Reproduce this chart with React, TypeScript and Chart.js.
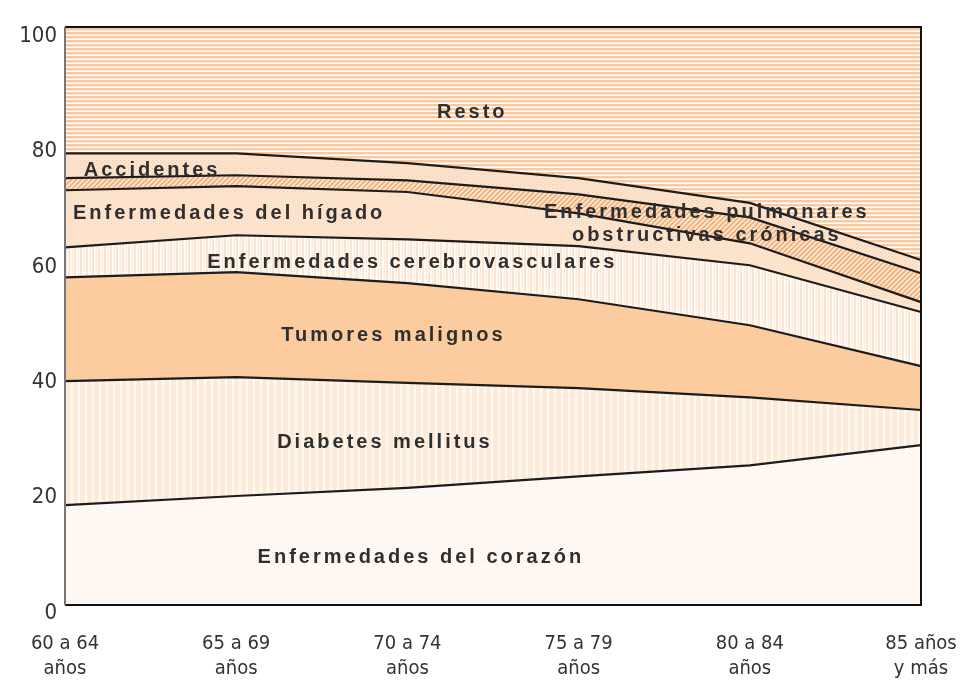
import React, { useEffect, useRef } from "react";
import { Chart, registerables } from "chart.js";
Chart.register(...registerables);

// ---- data (percent of deaths, stacked from bottom) ----
const categories = [
  ["60 a 64", "años"],
  ["65 a 69", "años"],
  ["70 a 74", "años"],
  ["75 a 79", "años"],
  ["80 a 84", "años"],
  ["85 años", "y más"],
];
const corazon = [18.7, 20.3, 21.7, 23.7, 25.6, 29.1];
const diabetes = [21.5, 20.6, 18.2, 15.3, 11.8, 6.1];
const tumores = [18.0, 18.2, 17.3, 15.4, 12.5, 7.6];
const cerebro = [5.2, 6.4, 7.6, 9.2, 10.4, 9.4];
const higado = [9.9, 8.5, 8.2, 5.7, 3.8, 1.7];
const epoc = [2.1, 1.9, 2.0, 3.3, 4.5, 5.0];
const accidentes = [4.3, 3.8, 3.0, 2.8, 2.5, 2.3];
const resto = [20.3, 20.3, 22.0, 24.6, 28.9, 38.8];
const yTicks = [0, 20, 40, 60, 80, 100];

// in-chart labels, placed in data coordinates (category index, percent)
const areaLabels = [
  { text: "Resto", x: 2.37, y: 86.7 },
  { text: "Accidentes", x: 0.5, y: 76.8 },
  { text: "Enfermedades del hígado", x: 0.95, y: 69.3 },
  { text: "Enfermedades pulmonares", x: 3.74, y: 69.5 },
  { text: "obstructivas crónicas", x: 3.74, y: 65.5 },
  { text: "Enfermedades cerebrovasculares", x: 2.02, y: 60.8 },
  { text: "Tumores malignos", x: 1.91, y: 48.2 },
  { text: "Diabetes mellitus", x: 1.86, y: 29.5 },
  { text: "Enfermedades del corazón", x: 2.07, y: 9.7 },
];

const TICK_FONT = "'Liberation Sans Narrow', 'DejaVu Sans Condensed', 'Liberation Sans', Arial, sans-serif";

function pat(w: number, h: number, bg: string, draw?: (g: CanvasRenderingContext2D) => void) {
  const c = document.createElement("canvas");
  c.width = w;
  c.height = h;
  const g = c.getContext("2d")!;
  g.fillStyle = bg;
  g.fillRect(0, 0, w, h);
  if (draw) draw(g);
  return g.createPattern(c, "repeat")!;
}

export default function App() {
  const ref = useRef<HTMLCanvasElement | null>(null);

  useEffect(() => {
    if (!ref.current) return;

    const pResto = pat(1, 4, "#ffffff", (g) => {
      g.fillStyle = "#f8ca9e";
      g.fillRect(0, 0, 1, 2);
      g.fillStyle = "#fde5cf";
      g.fillRect(0, 2, 1, 1);
    });
    const pAcc = pat(4, 4, "#fce3ce", (g) => {
      g.fillStyle = "#f6c9a2";
      g.fillRect(0, 0, 1, 1);
      g.fillRect(2, 2, 1, 1);
    });
    const pEpoc = pat(5, 5, "#fde4cf", (g) => {
      g.strokeStyle = "#f0aa6e";
      g.lineWidth = 1.5;
      g.beginPath();
      g.moveTo(-2.5, 2.5); g.lineTo(2.5, -2.5);
      g.moveTo(0, 5); g.lineTo(5, 0);
      g.moveTo(2.5, 7.5); g.lineTo(7.5, 2.5);
      g.stroke();
    });
    const pHig = pat(4, 4, "#fde4cf", (g) => {
      g.fillStyle = "#f9d6b8";
      g.fillRect(1, 1, 1, 1);
      g.fillRect(3, 3, 1, 1);
    });
    const pCer = pat(6, 4, "#fffaf4", (g) => {
      g.fillStyle = "#fce6d3";
      g.fillRect(0, 0, 2, 4);
      g.fillStyle = "#f9dcc4";
      g.fillRect(4, 1, 1, 1);
      g.fillRect(4, 3, 1, 1);
    });
    const pTum = pat(4, 4, "#fbcda0", (g) => {
      g.fillStyle = "#f7c392";
      g.fillRect(0, 0, 1, 1);
      g.fillRect(2, 2, 1, 1);
    });
    const pDia = pat(7, 4, "#fdebdb", (g) => {
      g.fillStyle = "#fff9f4";
      g.fillRect(0, 0, 2, 4);
      g.fillStyle = "#fadfc9";
      g.fillRect(4, 1, 1, 1);
    });
    const pCor = pat(4, 4, "#fffaf6", (g) => {
      g.fillStyle = "#fbeadb";
      g.fillRect(0, 0, 1, 1);
      g.fillRect(2, 2, 1, 1);
    });

    const line = "#1c1c1c";
    const mk = (label: string, data: number[], bg: any, fill: any, bw = 2.2) => ({
      label,
      data,
      backgroundColor: bg,
      borderColor: line,
      borderWidth: bw,
      fill,
      pointRadius: 0,
      tension: 0,
    });

    const bgPlugin = {
      id: "bgResto",
      beforeDatasetsDraw(chart: any) {
        const { ctx, chartArea: a } = chart;
        ctx.save();
        ctx.fillStyle = pResto;
        ctx.fillRect(a.left, a.top, a.right - a.left, a.bottom - a.top);
        ctx.restore();
      },
    };

    const labelPlugin = {
      id: "areaLabels",
      afterDatasetsDraw(chart: any) {
        const { ctx } = chart;
        const xs = chart.scales.x;
        const ys = chart.scales.y;
        ctx.save();
        ctx.font = "bold 20px 'Liberation Sans', Arial, sans-serif";
        (ctx as any).letterSpacing = "3px";
        ctx.fillStyle = "#2f2f2f";
        ctx.textAlign = "center";
        ctx.textBaseline = "middle";
        for (const l of areaLabels) {
          ctx.fillText(l.text, xs.getPixelForValue(l.x) + 1.5, ys.getPixelForValue(l.y));
        }
        ctx.restore();
      },
    };

    const framePlugin = {
      id: "frame",
      afterDraw(chart: any) {
        const { ctx, chartArea: a } = chart;
        ctx.save();
        ctx.lineWidth = 2;
        ctx.strokeStyle = "#111111";
        ctx.beginPath();
        ctx.moveTo(a.left, a.top);
        ctx.lineTo(a.right, a.top);
        ctx.lineTo(a.right, a.bottom);
        ctx.lineTo(a.left, a.bottom);
        ctx.stroke();
        ctx.strokeStyle = "#777777";
        ctx.beginPath();
        ctx.moveTo(a.left, a.bottom);
        ctx.lineTo(a.left, a.top);
        ctx.stroke();
        ctx.restore();
      },
    };

    const chart = new Chart(ref.current, {
      type: "line",
      data: {
        labels: categories as any,
        datasets: [
          mk("Enfermedades del corazón", corazon, pCor, "origin"),
          mk("Diabetes mellitus", diabetes, pDia, "-1"),
          mk("Tumores malignos", tumores, pTum, "-1"),
          mk("Enfermedades cerebrovasculares", cerebro, pCer, "-1"),
          mk("Enfermedades del hígado", higado, pHig, "-1"),
          mk("Enfermedades pulmonares obstructivas crónicas", epoc, pEpoc, "-1"),
          mk("Accidentes", accidentes, pAcc, "-1"),
          mk("Resto", resto, pResto, "-1", 0),
        ] as any,
      },
      options: {
        animation: false,
        responsive: true,
        maintainAspectRatio: false,
        layout: { padding: { top: 19, right: 0, left: 0, bottom: 0 } },
        plugins: {
          legend: { display: false },
          tooltip: { enabled: false },
        },
        scales: {
          x: {
            type: "category",
            offset: false,
            grid: { display: false, drawTicks: true, tickLength: 27 },
            border: { display: false },
            ticks: {
              color: "#333333",
              padding: 0,
              maxRotation: 0,
              autoSkip: false,
              font: { family: TICK_FONT, size: 20, lineHeight: 1.22 },
            },
            afterFit(s: any) {
              s.height = 75;
              s.paddingLeft = 0;
              s.paddingRight = 35;
            },
          },
          y: {
            type: "linear",
            stacked: true,
            min: 1.4,
            max: 101.6,
            grid: { display: false, drawTicks: true, tickLength: 6 },
            border: { display: false },
            afterBuildTicks(s: any) {
              s.ticks = yTicks.map((v) => ({ value: v }));
            },
            ticks: {
              color: "#333333",
              padding: 2,
              font: { family: TICK_FONT, size: 22 },
            },
            afterFit(s: any) {
              s.width = 57;
              s.paddingTop = 0;
              s.paddingBottom = 0;
            },
          },
        },
      },
      plugins: [bgPlugin, labelPlugin, framePlugin],
    });

    return () => chart.destroy();
  }, []);

  return (
    <div style={{ width: 948, height: 672, position: "relative" }}>
      <canvas ref={ref} />
    </div>
  );
}
